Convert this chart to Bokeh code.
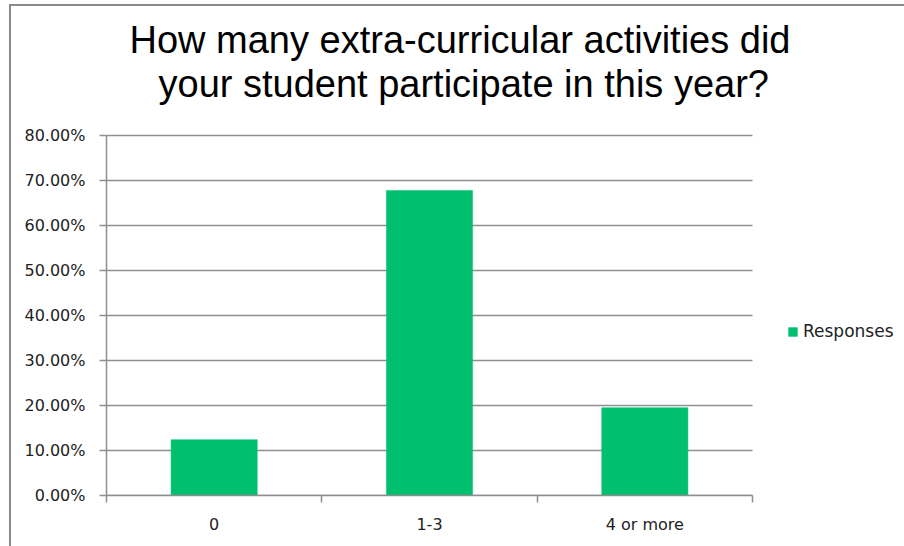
from bokeh.plotting import figure
from bokeh.models import (ColumnDataSource, Range1d, FixedTicker, NumeralTickFormatter,
                          Legend, LegendItem, Title)
from bokeh.embed import file_html
from bokeh.resources import INLINE

categories = ["0", "1-3", "4 or more"]
responses = [0.124, 0.678, 0.195]
y_ticks = [0.0, 0.1, 0.2, 0.3, 0.4, 0.5, 0.6, 0.7, 0.8]
title_lines = ["How many extra-curricular activities did", "your student participate in this year?"]
series_name = "Responses"

GREEN = "#00bf6f"
GRAY = "#8f8f8f"
TEXT = "#222222"
FONT = "DejaVu Sans"

W, H = 904, 546
LEFT, PLOT_RIGHT = 106, 752      # pixel extent of the category area
AXIS_TOP, BOTTOM = 135, 495      # pixel extent of the value axis
FRAME_TOP = 104                  # frame reaches a little higher so the title sits right
n = len(categories)
y_max = y_ticks[-1]
x_end = n * (W - LEFT) / (PLOT_RIGHT - LEFT)
y_end = y_max * (BOTTOM - FRAME_TOP) / (BOTTOM - AXIS_TOP)

p = figure(width=W, height=H, output_backend="svg", toolbar_location=None,
           x_range=Range1d(0, x_end), y_range=Range1d(0, y_end),
           min_border_left=LEFT, min_border_right=0, min_border_top=FRAME_TOP,
           min_border_bottom=H - BOTTOM)
p.outline_line_color = None
p.background_fill_color = "white"
p.border_fill_color = None
p.styles = {
    "background-color": "white",
    "background-image": "linear-gradient(#8a8a8a, #8a8a8a), linear-gradient(#8a8a8a, #8a8a8a)",
    "background-size": "2px 100%, 100% 2px",
    "background-position": "9px 4px, 9px 4px",
    "background-repeat": "no-repeat",
}

# horizontal gridlines over the category area only
p.segment(x0=0, x1=n, y0=y_ticks, y1=y_ticks, line_color=GRAY, line_width=1.5)

x_centers = [i + 0.5 for i in range(n)]
src = ColumnDataSource(dict(x=x_centers, top=responses, cat=categories))
r = p.vbar(x="x", top="top", width=0.4, bottom=0, source=src,
           fill_color=GREEN, line_color=GREEN, line_width=0.5)

# y axis
p.yaxis.ticker = FixedTicker(ticks=y_ticks)
p.yaxis.bounds = (0, y_max)
p.yaxis.formatter = NumeralTickFormatter(format="0.00%")
p.yaxis.axis_line_color = GRAY
p.yaxis.axis_line_width = 1.5
p.yaxis.major_tick_line_color = GRAY
p.yaxis.major_tick_line_width = 1.5
p.yaxis.major_tick_out = 7
p.yaxis.major_tick_in = 0
p.yaxis.minor_tick_line_color = None
p.yaxis.major_label_standoff = 14
p.yaxis.major_label_text_font = FONT
p.yaxis.major_label_text_font_size = "16px"
p.yaxis.major_label_text_color = TEXT

# x axis: labels at centres, tick marks at category boundaries
p.xaxis.ticker = FixedTicker(ticks=x_centers, minor_ticks=list(range(n + 1)))
p.xaxis.major_label_overrides = {x: c for x, c in zip(x_centers, categories)}
p.xaxis.bounds = (0, n)
p.xaxis.axis_line_color = GRAY
p.xaxis.axis_line_width = 1.5
p.xaxis.major_tick_line_color = None
p.xaxis.major_tick_out = 0
p.xaxis.major_tick_in = 0
p.xaxis.minor_tick_line_color = GRAY
p.xaxis.minor_tick_line_width = 1.5
p.xaxis.minor_tick_out = 7
p.xaxis.minor_tick_in = 0
p.xaxis.major_label_standoff = 12
p.xaxis.major_label_text_font = FONT
p.xaxis.major_label_text_font_size = "16px"
p.xaxis.major_label_text_color = TEXT

p.xgrid.grid_line_color = None
p.ygrid.grid_line_color = None

# title (two lines); the first added sits nearest the plot
p.add_layout(Title(text=title_lines[1], align="left", offset=52, standoff=0,
                   text_font="Liberation Sans", text_font_size="38px",
                   text_font_style="normal", text_color="#000000"), "above")
p.add_layout(Title(text=title_lines[0], align="left", offset=23, standoff=0,
                   text_font="Liberation Sans", text_font_size="38px",
                   text_font_style="normal", text_color="#000000"), "above")

legend = Legend(items=[LegendItem(label=series_name, renderers=[r])],
                location=(681, 154), orientation="vertical",
                glyph_width=11, glyph_height=11, label_standoff=5, padding=0, margin=0,
                border_line_color=None, background_fill_alpha=0,
                label_text_font=FONT, label_text_font_size="17px", label_text_color=TEXT)
p.add_layout(legend, "center")

open("out.html", "w").write(file_html(p, INLINE))
